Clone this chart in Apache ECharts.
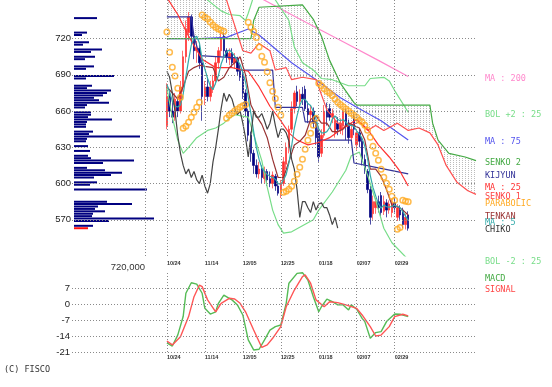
<!DOCTYPE html>
<html><head><meta charset="utf-8">
<script src="https://cdn.jsdelivr.net/npm/echarts@6/dist/echarts.min.js"></script>
<style>html,body{margin:0;padding:0;background:#fff}#c{width:552px;height:387px}</style>
</head><body><div id="c"></div>
<script>
// ---------- axis / tick data ----------
const dateTickIdx = [0, 14, 28, 42, 56, 70, 84];
const dateTicks = ['10/24', '11/14', '12/05', '12/25', '01/18', '02/07', '02/29'];
const priceTicks = [570, 600, 630, 660, 690, 720];
const macdTicks = [7, 0, -7, -14, -21];

// ---------- daily candles (day 0 = 10/24) ----------
const openP  = [648,672,660,655,668,660,680,705,725,738, 722,710,712,700,672,680,672,678,685,700, 710,722,710,703,708,700,703,693,690,675, 660,640,625,615,608,612,604,610,604,600, 606,598,592,600,616,630,645,662,676,668, 674,678,662,657,660,650,642,625,640,660, 662,655,642,650,645,648,660,650,638,655, 632,642,635,620,610,595,575,580,585,590, 577,584,578,576,584,572,578,578,566,574];
const closeP = [672,660,655,670,660,680,705,728,738,722, 710,712,700,672,680,672,680,685,700,710, 720,710,705,708,700,704,693,688,675,660, 640,625,615,608,612,605,610,603,600,607, 598,592,600,618,630,645,662,675,668,674, 670,662,657,660,650,638,622,640,660,655, 655,658,652,645,650,660,648,638,645,645, 642,635,620,612,595,572,585,585,580,576, 585,578,583,584,580,580,574,566,572,563];
const lowP   = [645,655,650,652,655,658,676,700,718,715, 703,700,695,652,665,668,668,675,682,695, 705,705,700,698,696,695,690,685,670,655, 635,618,608,605,604,600,600,598,597,596, 594,590,588,598,612,625,642,658,664,664, 665,660,650,652,646,632,618,622,638,648, 652,650,638,640,641,640,636,633,634,640, 628,630,615,608,592,566,570,575,576,572, 574,572,575,572,576,569,570,563,562,561];
const highP  = [683,676,668,675,672,685,710,735,742,740, 725,718,715,703,685,688,685,690,705,713, 725,725,712,712,712,708,705,698,693,678, 662,643,628,620,618,615,614,612,610,610, 608,602,603,622,634,648,668,677,681,678, 680,681,668,665,663,652,646,645,665,667, 666,662,656,655,654,661,662,653,650,658, 645,646,638,624,612,598,590,588,590,593, 590,587,586,587,588,583,582,580,575,577];

// ---------- indicators ----------
const ma5 = [682,676,668,664,663.4,665,674,688.6,702.2,714.6, 720.6,722,716.4,703.2,694.8,687.2,680.8,677.8,683.4,689.4, 699,705,709,710.6,708.6,705.4,702,698.6,692,684, 671.2,657.6,643,629.6,620,613,610,607.6,606,605, 603.6,600,599.4,603,607.6,617,631,646,656,664.8, 669.8,669.8,666.2,664.6,659.8,653.4,645.4,642,642,643, 646.4,653.6,656,653,652,653,651,648.2,648.2,647.2, 643.6,641,637.4,630.8,620.8,606.8,596.8,589.8,583.4,579.6, 582.2,580.8,580.4,581.2,582,581,580.2,576.8,573,569.5];
const ma25 = [[0,754],[4,740],[8,722],[13,703],[18,696],[24,696],[30,693],[34,680],[38,664],[42,652],[45,642],[48,636],[52,632],[56,634],[60,638],[65,646],[70,653],[74,645],[78,632],[82,622],[86,610],[89,598]];
const ma75 = [[0,720],[12,720],[22,721],[30,728],[34,723],[46,700],[55,686],[64,671],[71,662],[79,652],[89,636]];
const ma200 = [[30,758],[35,753],[50,735],[65,717.5],[78,702],[89,688.6]];
const bolUp = [[10,770],[15,752],[20,743],[23,740],[27,739],[29,735],[30,741],[32,755],[36,770],[40,752],[45,735],[47,713],[50,700],[54,694],[57,687],[61,686],[67,681],[73,681],[75,687],[80,688],[82,685],[84,677],[89,659]];
const bolDn = [[0,679],[2,655],[4,636],[6,625],[8,630],[11,638],[15,644],[18,646],[21,650],[23,654],[25,657],[30,655],[35,619],[37,597],[39,578],[41,566],[43,559],[46,560],[54,570],[56,578],[61,593],[66,611],[68,623],[71,626],[74,607],[77,586],[80,563],[83,551],[89,537]];
const tenkan = [[0,680],[2,675],[4,670],[6,680],[8,693],[10,696],[12,698],[14,697],[17,696],[19,685],[21,688],[23,696],[25,700],[27,705],[29,690],[31,665],[33,656],[35,649],[37,638],[39,620],[41,605],[43,605],[45,618],[47,632],[49,635],[51,640],[53,653],[55,656],[57,650],[59,650],[61,643],[63,643],[65,645],[67,650],[69,648],[71,646],[73,636],[75,612],[77,612],[79,606],[81,595],[83,582],[85,581],[87,578],[89,574]];
const kijun = [[0,738],[9,738],[10,722],[12,706],[26,704],[27,694],[39,694],[40,663],[50,663],[51,651],[55,651],[56,636],[68,636],[69,617],[78,613],[89,608]];
const senko1 = [[0,790],[10,785],[18,765],[22,752],[26,724],[28,710],[31,708],[34,716],[38,710],[40,694],[44,696],[46,686],[50,688],[55,686],[59,661],[63,650],[66,647],[71,651],[74,644],[77,648],[80,644],[85,650],[89,644],[93,646],[97,642],[100,632],[103,615],[107,601],[111,594],[114,591]];
const senko2 = [[0,720],[31,720],[32,735],[34,746],[50,748],[54,736],[57,722],[60,702],[64,683],[69,667],[70,665],[97,665],[98,650],[100,636],[104,625],[110,622],[114,619]];
const sar = [725.4,708.8,696.4,689,679,671.5,645.8,647.5,650.8,655, 659.1,663.2,667.4,739.5,737.8,736.2,733.7,731.2,729.5,727.9, 727,726.2,654.1,656.6,658.3,660,661.6,663.2,664.5,665.5, 733.6,729.5,726,721,713,705.5,700.5,692.5,683.5,676.5, 670.5,663.2,656.6,592.8,593.6,595.3,597.8,601.9,607.7,613.5, 620.2,628.4,635.9,641.7,648.3,654.1,683.1,681,678.5,676.5, 675,673,670,667.4,665.5,663.6,661.8,660,658.3,656.5, 654.8,652.5,651,648.3,644.2,638.4,630.9,625.1,619.3,611.9, 605.2,600.2,595.3,589.5,586.2,562.1,563.7,586.2,585.3,584.9];
const CHIKO_SHIFT = 26;

const macd = [[0,-17],[2,-18.4],[4,-13.6],[6,-5.5],[7,4.7],[9,9.3],[11,8.7],[13,4.7],[14,-1.9],[16,-4.4],[18,-3.4],[19,0.3],[21,3.9],[23,2.5],[24,1.8],[26,-0.4],[28,-4.8],[30,-15.7],[32,-20.1],[34,-19.8],[36,-15.7],[38,-11.4],[40,-9.9],[42,-9.2],[44,0.3],[45,9.1],[48,13.4],[50,13.7],[52,10.5],[54,3.2],[56,-3.4],[57,-1.2],[59,2.1],[61,1.0],[63,-0.4],[65,-0.4],[67,-2.6],[68,-0.4],[70,-2.3],[72,-6.3],[73,-7.7],[75,-15],[77,-12.5],[79,-12.1],[81,-7.7],[84,-4.4],[86,-4.5],[89,-5.5]];
const signal = [[0,-16.2],[2,-17.9],[5,-14.3],[8,-5.5],[10,3.2],[12,8.3],[13,7.6],[15,1.8],[18,-3.4],[20,0.3],[23,2.5],[25,2.2],[27,0.3],[29,-3.4],[32,-11.4],[35,-19],[37,-17.9],[39,-15],[42,-9.9],[44,-1.2],[47,6.1],[50,12],[51,12.7],[53,9.1],[55,1.8],[58,-1.2],[60,1.0],[63,0.6],[66,-0.4],[70,-1.9],[72,-4.8],[75,-9.9],[77,-14],[79,-13.6],[82,-9.9],[84,-5.5],[87,-4.5],[89,-5.2]];

// volume by price (bin centre price, thousand shares)
const volPrices = [737,725,723,717,715,711,709,705,703,697,695,689,687,681,679,677,675,673,671,669,667,665,663,659,657,655,653,651,649,647,643,641,639,637,635,631,627,623,621,619,617,613,611,609,607,605,601,599,595,585,583,581,579,577,575,573,571,569,565,563];
const volValues = [230,130,80,150,90,280,170,210,110,200,120,400,120,180,130,370,330,290,200,250,350,130,110,170,170,140,380,130,120,120,190,150,660,130,120,140,160,140,170,600,290,130,310,480,370,200,230,160,730,330,580,240,210,310,190,180,800,350,190,140];
const currentBin = 563;

// ---------- layout helpers ----------
const PAD = 35, LAST_DAY = 114;
const cats = [];
for (let d = -PAD; d <= LAST_DAY; d++) cats.push('D' + d);
const X = d => d + PAD;
const pairs = arr => arr.map(p => [X(p[0]), p[1]]);
const seqPairs = arr => arr.map((v, i) => [X(i), v]);

const volBins = [];
for (let p = 541; p <= 751; p += 2) volBins.push(p);
const volData = volBins.map(p => {
  const k = volPrices.indexOf(p);
  if (k < 0) return '-';
  return p === currentBin ? { value: volValues[k], itemStyle: { color: '#ff1010' } } : volValues[k];
});

const candleData = openP.map((o, i) => [X(i), o, closeP[i], lowP[i], highP[i]]);
const chikoData = closeP.slice(CHIKO_SHIFT).map((c, i) => [X(i), c]);

const hatch = document.createElement('canvas');
hatch.width = 3; hatch.height = 2;
const hctx = hatch.getContext('2d');
hctx.fillStyle = '#bcbcbc';
hctx.fillRect(0, 0, 1, 1);

const dotLine = { color: '#8a8a8a', type: [1, 2], width: 1 };
const tickSet = new Set(dateTickIdx.map(X));
const dateLabel = {
  interval: (i) => tickSet.has(i),
  formatter: (v, i) => { const k = dateTickIdx.indexOf(i - PAD); return k >= 0 ? dateTicks[k] : ''; },
  align: 'left', fontSize: 5.5, fontWeight: 'bold', color: '#333', fontFamily: 'Liberation Sans'
};

function line(data, color, width, z) {
  return { type: 'line', xAxisIndex: 0, yAxisIndex: 0, data, showSymbol: false, silent: true,
    lineStyle: { color, width: width || 1.2 }, z: z || 3, animation: false };
}

const chart = echarts.init(document.getElementById('c'), null, { width: 552, height: 387 });
chart.setOption({
  animation: false,
  textStyle: { fontFamily: 'Liberation Sans' },
  grid: [
    { left: 72, top: 0, width: 404, height: 256 },
    { left: 72, top: 272, width: 404, height: 80 },
    { left: 74, top: 0, width: 81, height: 256 }
  ],
  xAxis: [
    { type: 'category', gridIndex: 0, data: cats, boundaryGap: false,
      axisLine: { show: false }, axisTick: { show: false }, splitLine: { show: false },
      axisLabel: Object.assign({ margin: 4 }, dateLabel) },
    { type: 'category', gridIndex: 1, data: cats, boundaryGap: false,
      axisLine: { show: false }, axisTick: { show: false }, splitLine: { show: false },
      axisLabel: Object.assign({ margin: 2 }, dateLabel) },
    { type: 'value', gridIndex: 2, min: 0, max: 810, show: false }
  ],
  yAxis: [
    { type: 'value', gridIndex: 0, min: 540, max: 752, interval: 30,
      axisLine: { show: false }, axisTick: { show: false }, splitLine: { show: false },
      axisLabel: { formatter: v => priceTicks.includes(v) ? String(v) : '', margin: 1, fontSize: 9.5, color: '#222' } },
    { type: 'value', gridIndex: 1, min: -21, max: 14, interval: 7,
      axisLine: { show: false }, axisTick: { show: false }, splitLine: { show: false },
      axisLabel: { formatter: v => macdTicks.includes(v) ? String(v) : '', margin: 2, fontSize: 9.5, color: '#222' } },
    { type: 'category', gridIndex: 2, data: volBins.map(String), show: false }
  ],
  series: [
    { type: 'line', xAxisIndex: 0, yAxisIndex: 0, data: [], z: 1, silent: true,
      markLine: { symbol: 'none', silent: true, animation: false, label: { show: false }, lineStyle: dotLine,
        data: priceTicks.map(v => ({ yAxis: v })).concat([-8].concat(dateTickIdx).map(d => ({ xAxis: X(d) }))) } },
    { type: 'line', xAxisIndex: 1, yAxisIndex: 1, data: [], z: 1, silent: true,
      markLine: { symbol: 'none', silent: true, animation: false, label: { show: false }, lineStyle: dotLine,
        data: macdTicks.map(v => ({ yAxis: v })).concat(dateTickIdx.map(d => ({ xAxis: X(d) }))) } },
    { type: 'custom', xAxisIndex: 0, yAxisIndex: 0, z: 1, silent: true, data: [[X(0), 700]],
      renderItem: (params, api) => {
        const pts = senko1.map(p => api.coord([X(p[0]), p[1]]))
          .concat(senko2.slice().reverse().map(p => api.coord([X(p[0]), p[1]])));
        const cs = params.coordSys;
        return { type: 'polygon', shape: { points: pts },
          style: { fill: { image: hatch, repeat: 'repeat' }, stroke: null },
          clipPath: { type: 'rect', shape: { x: cs.x, y: cs.y, width: cs.width, height: cs.height } } };
      } },
    { type: 'bar', xAxisIndex: 2, yAxisIndex: 2, data: volData, barWidth: 2, z: 3, silent: true,
      itemStyle: { color: '#000080' } },
    { type: 'candlestick', xAxisIndex: 0, yAxisIndex: 0, data: candleData,
      encode: { x: 0, y: [1, 2, 3, 4] }, barWidth: 2, z: 2, silent: true,
      itemStyle: { color: '#ff3030', color0: '#000080', borderColor: '#ff3030', borderColor0: '#000080', borderWidth: 0.7 } },
    line(pairs(ma200), '#ff88cc'),
    line(pairs(bolUp), '#77dd88'),
    line(pairs(bolDn), '#77dd88'),
    line(pairs(ma75), '#5555ee'),
    line(pairs(senko2), '#44aa44'),
    line(pairs(senko1), '#ff5050'),
    line(pairs(kijun), '#333399'),
    line(pairs(ma25), '#ff3333'),
    line(pairs(tenkan), '#993333'),
    line(seqPairs(ma5), '#33aaaa'),
    line(chikoData, '#444444'),
    { type: 'scatter', xAxisIndex: 0, yAxisIndex: 0, data: seqPairs(sar), symbol: 'circle', symbolSize: 5.5, z: 4, silent: true,
      itemStyle: { color: 'rgba(255,255,255,0)', borderColor: '#ffaa22', borderWidth: 1.5 } },
    { type: 'line', xAxisIndex: 1, yAxisIndex: 1, data: pairs(macd), showSymbol: false, silent: true,
      lineStyle: { color: '#55bb55', width: 1.4 }, z: 3 },
    { type: 'line', xAxisIndex: 1, yAxisIndex: 1, data: pairs(signal), showSymbol: false, silent: true,
      lineStyle: { color: '#ff5555', width: 1.4 }, z: 3 }
  ]
});

// right-hand labels placed at each line's last value
const last = a => { const v = a[a.length - 1]; return Array.isArray(v) ? v[1] : v; };
const legendItems = [
  ['MA : 200', last(ma200), '#ff88cc'],
  ['BOL +2 : 25', last(bolUp), '#77dd88'],
  ['MA : 75', last(ma75), '#5555ee'],
  ['SENKO 2', last(senko2), '#44aa44'],
  ['KIJYUN', last(kijun), '#333399'],
  ['MA : 25', last(ma25), '#ff3333'],
  ['SENKO 1', last(senko1), '#ff4444'],
  ['PARABOLIC', last(sar), '#ffaa22'],
  ['TENKAN', last(tenkan), '#993333'],
  ['MA : 5', last(ma5), '#33aaaa'],
  ['CHIKO', last(closeP), '#333333'],
  ['BOL -2 : 25', last(bolDn), '#77dd88']
];
const mono = '8.5px "DejaVu Sans Mono"';
const graphics = legendItems.map(([t, v, c]) => ({
  type: 'text', x: 485, y: chart.convertToPixel({ yAxisIndex: 0 }, v) + 2, silent: true,
  style: { text: t, fill: c, font: mono, textVerticalAlign: 'middle', verticalAlign: 'middle' }
}));
graphics.push(
  { type: 'text', x: 485, y: 279, silent: true, style: { text: 'MACD', fill: '#44aa44', font: mono, textVerticalAlign: 'middle', verticalAlign: 'middle' } },
  { type: 'text', x: 485, y: 290, silent: true, style: { text: 'SIGNAL', fill: '#ff4444', font: mono, textVerticalAlign: 'middle', verticalAlign: 'middle' } },
  { type: 'text', x: 145, y: 267, silent: true, style: { text: '720,000', fill: '#333', font: '9.5px "Liberation Sans"', textAlign: 'right', align: 'right', textVerticalAlign: 'middle', verticalAlign: 'middle' } },
  { type: 'text', x: 4, y: 370, silent: true, style: { text: '(C) FISCO', fill: '#333', font: '8.5px "DejaVu Sans Mono"', textVerticalAlign: 'middle', verticalAlign: 'middle' } }
);
chart.setOption({ graphic: graphics });
</script></body></html>
